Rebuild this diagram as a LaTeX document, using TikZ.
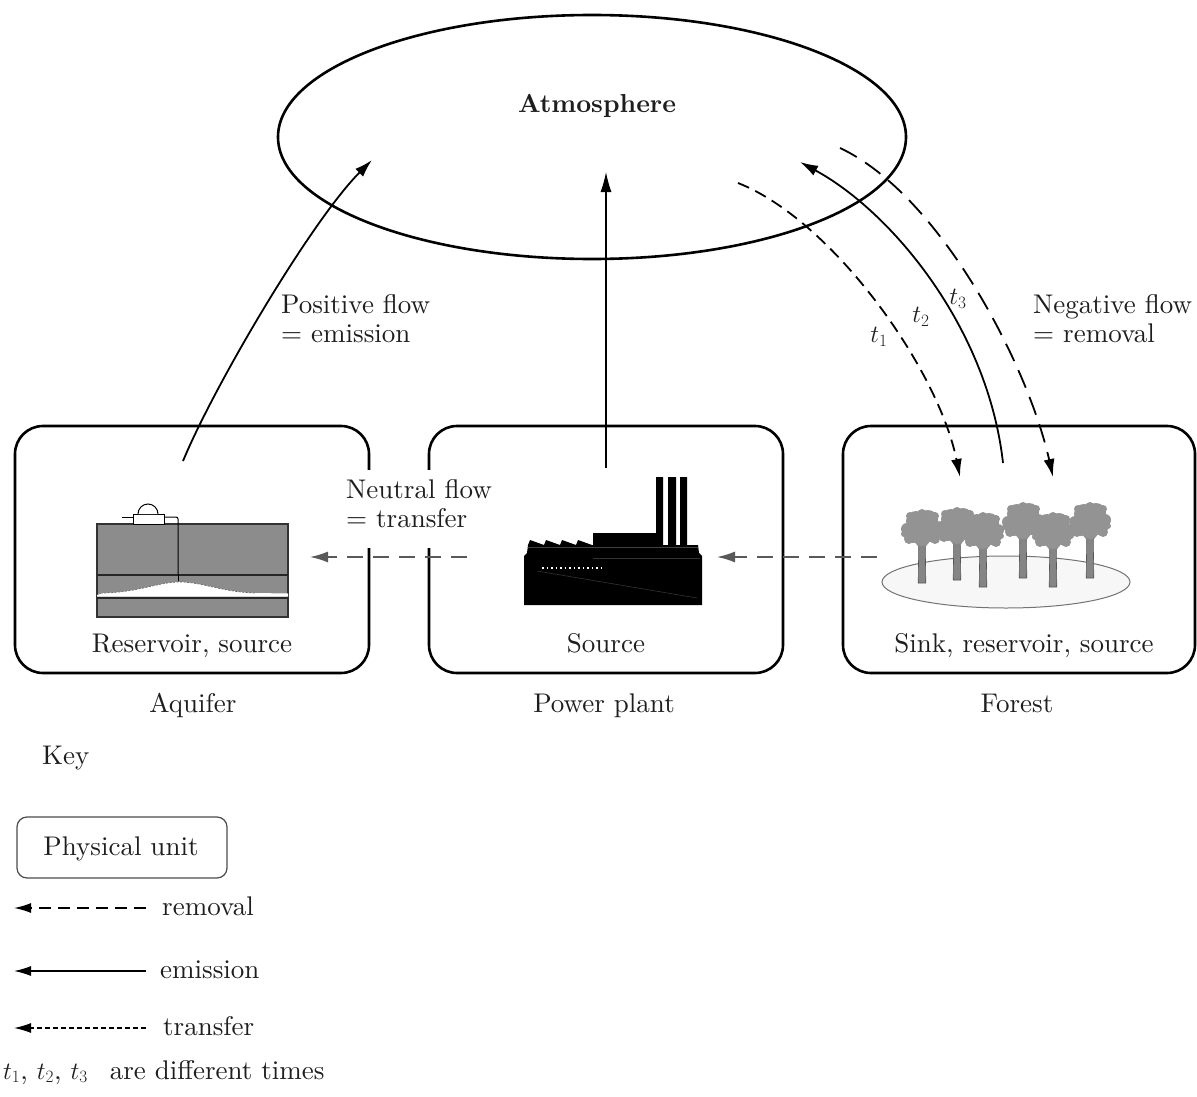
\documentclass[tikz,border=0pt]{standalone}
\usepackage{fontspec}
\setmainfont{lmroman10-regular.otf}[BoldFont=lmroman10-bold.otf, ItalicFont=lmroman10-italic.otf, BoldItalicFont=lmroman10-bolditalic.otf]
\usetikzlibrary{arrows.meta,shapes.geometric}
\definecolor{txt}{HTML}{1E1E1E}
\definecolor{crowngray}{HTML}{939393}
\definecolor{trunkgray}{HTML}{858585}
\definecolor{trunkdark}{HTML}{555555}
\definecolor{rockgray}{HTML}{8C8C8C}
\begin{document}
\begin{tikzpicture}[x=1pt,y=-1pt,
  lbl/.style={font=\fontsize{27}{29.5}\selectfont, text=txt, inner sep=0pt},
  unitbox/.style={draw, line width=2.6pt, rounded corners=28pt, minimum width=354pt, minimum height=247pt, inner sep=0pt},
  tipbig/.style={-{Latex[length=18pt,width=11pt]}},
  emis/.style={tipbig, line width=1.8pt},
  remv/.style={tipbig, line width=1.8pt},
  trans/.style={-{Latex[length=18pt,width=11pt]}, line width=1.6pt, draw=black!65, dash pattern=on 16pt off 10pt}
]
\useasboundingbox (0,0) rectangle (1197,1097);
\fill[white] (0,0) rectangle (1197,1097);

% ---------- Atmosphere ----------
\node[ellipse, draw, line width=2.6pt, minimum width=628pt, minimum height=244pt, inner sep=0pt] (atm) at (592,137) {};
\node[lbl, font=\fontsize{26}{30}\selectfont\bfseries, anchor=base] (atmlbl) at (597,113) {Atmosphere};

% ---------- Units ----------
\node[unitbox] (aqbox) at (192,549.5) {};
\node[unitbox] (ppbox) at (606,549.5) {};
\node[unitbox, minimum width=352pt] (fobox) at (1019,549.5) {};
% gaps in edges for the neutral-flow label
\fill[white] (362,470) rectangle (376,548);
\fill[white] (422,470) rectangle (436,548);

\node[lbl, anchor=base] (aqtxt) at (192,652) {Reservoir, source};
\node[lbl, anchor=base] (pptxt) at (606,652) {Source};
\node[lbl, anchor=base] (fotxt) at (1024,652) {Sink, reservoir, source};
\node[lbl, anchor=base] (aqname) at (193,712) {Aquifer};
\node[lbl, anchor=base] (ppname) at (604,712) {Power plant};
\node[lbl, anchor=base] (foname) at (1017,712) {Forest};

% ---------- Flow labels ----------
\node[lbl, anchor=north west, align=left] (poslbl) at (281,294) {Positive flow\\= emission};
\node[lbl, anchor=north west, align=left] (neulbl) at (346,479) {Neutral flow\\= transfer};
\node[lbl, anchor=north west, align=left] (neglbl) at (1033,294) {Negative flow\\= removal};
\node[lbl] (t1lbl) at (879,337) {$t_1$};
\node[lbl] (t2lbl) at (921,317) {$t_2$};
\node[lbl] (t3lbl) at (958,299) {$t_3$};

% ---------- Aquifer picture ----------
\filldraw[fill=rockgray, draw=black!80, line width=1.2pt] (97,524) rectangle (288,617);
\fill[white] (97,595) -- (104,593) .. controls (140,592) and (158,582) .. (180,582)
  .. controls (202,582) and (222,592) .. (255,593) -- (288,593.5) -- (288,596.5) -- (97,596.5) -- cycle;
\draw[black!60, line width=0.7pt, dash pattern=on 2pt off 1.5pt] (104,593) .. controls (140,592) and (158,582) .. (180,582)
  .. controls (202,582) and (222,592) .. (255,593);
\draw[black!85, line width=1.5pt] (97,575) -- (288,575);
\draw[black!85, line width=1.5pt] (97,598) -- (288,598);
\draw[black, line width=1pt] (178,575) -- (178,581);
\filldraw[fill=white, draw=black, line width=1pt] (133,514) rectangle (164,524);
\filldraw[fill=white, draw=black, line width=1pt] (138,514) arc[start angle=180, end angle=0, radius=10pt];
\draw[black, line width=1pt] (122,517) -- (133,517);
\draw[black, line width=1pt, rounded corners=2pt] (164,517) -- (178,517) -- (178,575);

% ---------- Power plant picture ----------
\fill[black] (524,605) -- (524,556) -- (527,553) -- (528,545) -- (530,540) -- (544,545) -- (546,540)
  -- (560,545) -- (562,540) -- (576,545) -- (578,540) -- (592,545) -- (593,545) -- (593,533)
  -- (656,533) -- (656,477) -- (663,477) -- (663,545) -- (668,545) -- (668,477) -- (676,477)
  -- (676,545) -- (680,545) -- (680,477) -- (687,477) -- (687,545) -- (698,545) -- (699,553)
  -- (702,556) -- (702,605) -- cycle;
\draw[black!75, line width=0.6pt] (528,547) -- (698,547);
\draw[black!80, line width=0.6pt] (593,558) -- (700,558);
\draw[black!80, line width=0.6pt] (537,571) -- (697,598);
\draw[white, line width=1.2pt, dash pattern=on 1.5pt off 3pt] (542,568) -- (602,568);

% ---------- Forest picture ----------
\filldraw[fill=black!3, draw=black!55, line width=1pt] (1006,582) ellipse[x radius=124pt, y radius=26pt];
\foreach \cx/\cy/\by in {922/531/583, 957/529/580, 983/534/587, 1023/524/578, 1053/534/587, 1090/524/578} {
  \filldraw[fill=trunkgray, draw=trunkdark, line width=0.6pt]
    (\cx-3.2,\cy+12) -- (\cx+3.2,\cy+12) -- (\cx+3.8,\by) -- (\cx-3.8,\by) -- cycle;
  \draw[trunkgray, line width=2.2pt] (\cx,\cy+19) -- (\cx-7,\cy+9);
  \draw[trunkgray, line width=2.2pt] (\cx,\cy+19) -- (\cx+7,\cy+9);
  \fill[crowngray] (\cx,\cy-2) circle[radius=14pt] (\cx-9,\cy+2) circle[radius=10pt]
    (\cx+9,\cy+1) circle[radius=10pt] (\cx-6,\cy-10) circle[radius=10pt]
    (\cx+6,\cy-11) circle[radius=10pt] (\cx,\cy+6) circle[radius=9pt]
    (\cx-15,\cy-2) circle[radius=6pt] (\cx+15,\cy-4) circle[radius=6pt]
    (\cx-13,\cy+8) circle[radius=5pt] (\cx+13,\cy+8) circle[radius=5pt]
    (\cx,\cy-17) circle[radius=5pt] (\cx-18,\cy+3) circle[radius=3pt]
    (\cx+18,\cy+2) circle[radius=3pt] (\cx-12,\cy-15) circle[radius=4pt]
    (\cx+13,\cy-15) circle[radius=4pt];
}

% ---------- Connector end points ----------
\coordinate (aqOut) at (183,461);
\coordinate (atmL) at (372,160);
\coordinate (ppOut) at (606,468);
\coordinate (atmM) at (606,172);
\coordinate (t1s) at (738,183);
\coordinate (t1e) at (960,477);
\coordinate (t2s) at (1003,463);
\coordinate (t2e) at (800,162);
\coordinate (t3s) at (840,148);
\coordinate (t3e) at (1053,477);
\coordinate (foOut) at (877,557);
\coordinate (ppIn) at (717,557);
\coordinate (ppOut2) at (467,557);
\coordinate (aqIn) at (310,557);

% ---------- Connectors ----------
\draw[emis] (aqOut) .. controls (215,384) and (312,220) .. (atmL);
\draw[-{Latex[length=20pt,width=11pt]}, line width=1.2pt] (ppOut) -- (atmM);
\draw[remv, dash pattern=on 12pt off 7pt] (t1s) .. controls (832,220) and (938,368) .. (t1e);
\draw[emis] (t2s) .. controls (988,328) and (892,212) .. (t2e);
\draw[remv, dash pattern=on 19pt off 10pt] (t3s) .. controls (940,195) and (1028,365) .. (t3e);
\draw[trans] (foOut) -- (ppIn);
\draw[trans] (ppOut2) -- (aqIn);

% ---------- Key ----------
\node[lbl, anchor=base west] (keylbl) at (42,764) {Key};
\node[draw=black!70, line width=1.2pt, rounded corners=10pt, minimum width=210pt, minimum height=61pt, inner sep=0pt] (keybox) at (122,847.5) {};
\node[lbl, anchor=base] (keyboxtxt) at (121,855) {Physical unit};

\coordinate (k1s) at (146,908);
\coordinate (k1e) at (14,908);
\coordinate (k2s) at (146,971);
\coordinate (k2e) at (14,971);
\coordinate (k3s) at (146,1028);
\coordinate (k3e) at (14,1028);
\draw[-{Latex[length=17pt,width=10pt]}, line width=1.5pt, dash pattern=on 12pt off 7pt] (k1s) -- (k1e);
\draw[-{Latex[length=17pt,width=10pt]}, line width=1.3pt] (k2s) -- (k2e);
\draw[-{Latex[length=17pt,width=10pt]}, line width=1.3pt, dash pattern=on 5pt off 3pt] (k3s) -- (k3e);
\node[lbl, anchor=base west] (k1lbl) at (162,915) {removal};
\node[lbl, anchor=base west] (k2lbl) at (160,978) {emission};
\node[lbl, anchor=base west] (k3lbl) at (163,1035) {transfer};
\node[lbl, anchor=base west] (tlbl) at (3,1079) {$t_1$, $t_2$, $t_3$\hspace{22pt}are different times};
\end{tikzpicture}
\end{document}
